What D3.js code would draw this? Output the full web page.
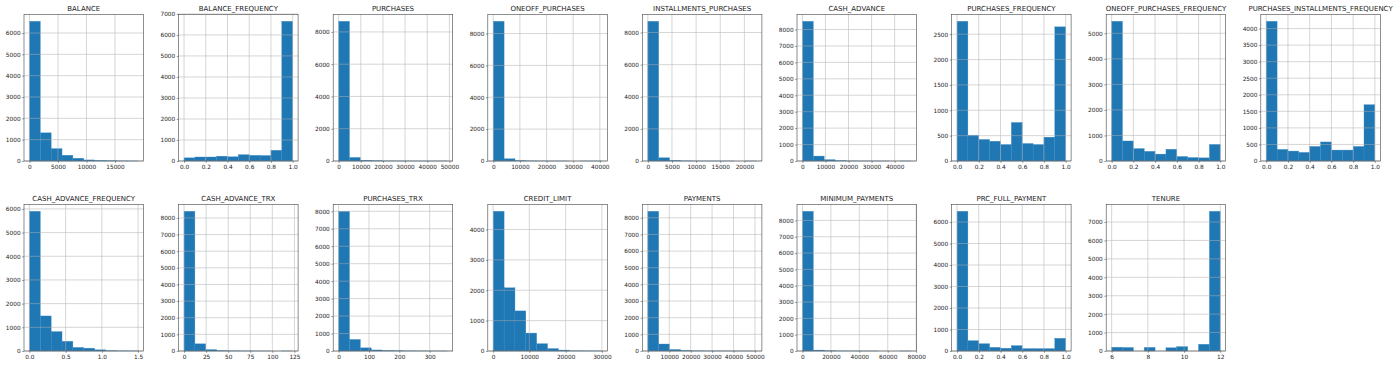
<!DOCTYPE html>
<html>
<head>
<meta charset="utf-8">
<script src="https://cdn.jsdelivr.net/npm/d3@7/dist/d3.min.js"></script>
<style>
  html, body { margin: 0; padding: 0; background: #fff; }
  svg { display: block; }
  text { font-family: "DejaVu Sans", sans-serif; fill: #222; }
</style>
</head>
<body>
<svg id="chart" width="1400" height="366"></svg>
<script>
// ---- data ----
const columns = [
  "BALANCE", "BALANCE_FREQUENCY", "PURCHASES", "ONEOFF_PURCHASES", "INSTALLMENTS_PURCHASES",
  "CASH_ADVANCE", "PURCHASES_FREQUENCY", "ONEOFF_PURCHASES_FREQUENCY", "PURCHASES_INSTALLMENTS_FREQUENCY",
  "CASH_ADVANCE_FREQUENCY", "CASH_ADVANCE_TRX", "PURCHASES_TRX", "CREDIT_LIMIT", "PAYMENTS",
  "MINIMUM_PAYMENTS", "PRC_FULL_PAYMENT", "TENURE"
];
const dataMin = [0, 0, 0, 0, 0, 0, 0, 0, 0, 0, 0, 0, 50, 0, 0.02, 0, 6];
const dataMax = [19043, 1, 49040, 40761, 22500, 47137, 1, 1, 1, 1.5, 123, 358, 30000, 50721, 76406, 1, 12];
const binCounts = [
  [6550, 1320, 580, 270, 130, 50, 25, 10, 5, 2],
  [150, 190, 190, 230, 200, 300, 270, 260, 510, 6650],
  [8660, 220, 45, 12, 5, 3, 2, 1, 1, 1],
  [8770, 140, 25, 8, 3, 1, 1, 0, 1, 1],
  [8700, 200, 35, 8, 3, 1, 1, 1, 0, 1],
  [8500, 300, 80, 20, 5, 2, 1, 1, 0, 1],
  [2755, 510, 425, 390, 325, 760, 345, 325, 470, 2645],
  [5470, 784, 486, 378, 270, 460, 176, 135, 122, 649],
  [4220, 350, 300, 260, 440, 575, 330, 330, 440, 1700],
  [5900, 1480, 820, 410, 150, 120, 50, 10, 5, 3],
  [8400, 430, 85, 20, 8, 3, 2, 1, 0, 1],
  [8000, 660, 180, 60, 25, 12, 6, 4, 2, 1],
  [4600, 2080, 1320, 590, 240, 80, 30, 5, 3, 2],
  [8390, 420, 90, 30, 10, 4, 3, 1, 1, 1],
  [8560, 55, 12, 4, 2, 1, 1, 0, 0, 1],
  [6500, 480, 340, 170, 130, 250, 110, 110, 110, 590],
  [204, 190, 0, 196, 0, 175, 236, 0, 365, 7584]
];
const xTickLabels = [
  ["0", "5000", "10000", "15000"],
  ["0.0", "0.2", "0.4", "0.6", "0.8", "1.0"],
  ["0", "10000", "20000", "30000", "40000", "50000"],
  ["0", "10000", "20000", "30000", "40000"],
  ["0", "5000", "10000", "15000", "20000"],
  ["0", "10000", "20000", "30000", "40000"],
  ["0.0", "0.2", "0.4", "0.6", "0.8", "1.0"],
  ["0.0", "0.2", "0.4", "0.6", "0.8", "1.0"],
  ["0.0", "0.2", "0.4", "0.6", "0.8", "1.0"],
  ["0.0", "0.5", "1.0", "1.5"],
  ["0", "25", "50", "75", "100", "125"],
  ["0", "100", "200", "300"],
  ["0", "10000", "20000", "30000"],
  ["0", "10000", "20000", "30000", "40000", "50000"],
  ["0", "20000", "40000", "60000", "80000"],
  ["0.0", "0.2", "0.4", "0.6", "0.8", "1.0"],
  ["6", "8", "10", "12"]
];
const yTickLabels = [
  ["0", "1000", "2000", "3000", "4000", "5000", "6000"],
  ["0", "1000", "2000", "3000", "4000", "5000", "6000", "7000"],
  ["0", "2000", "4000", "6000", "8000"],
  ["0", "2000", "4000", "6000", "8000"],
  ["0", "2000", "4000", "6000", "8000"],
  ["0", "1000", "2000", "3000", "4000", "5000", "6000", "7000", "8000"],
  ["0", "500", "1000", "1500", "2000", "2500"],
  ["0", "1000", "2000", "3000", "4000", "5000"],
  ["0", "500", "1000", "1500", "2000", "2500", "3000", "3500", "4000"],
  ["0", "1000", "2000", "3000", "4000", "5000", "6000"],
  ["0", "1000", "2000", "3000", "4000", "5000", "6000", "7000", "8000"],
  ["0", "1000", "2000", "3000", "4000", "5000", "6000", "7000", "8000"],
  ["0", "1000", "2000", "3000", "4000"],
  ["0", "1000", "2000", "3000", "4000", "5000", "6000", "7000", "8000"],
  ["0", "1000", "2000", "3000", "4000", "5000", "6000", "7000", "8000"],
  ["0", "1000", "2000", "3000", "4000", "5000", "6000"],
  ["0", "1000", "2000", "3000", "4000", "5000", "6000", "7000"]
];

// ---- layout ----
const nCols = 9;
const left0 = 24, colStep = 154.6, axW = 119.5;
const rowTops = [14.3, 204.3], axH = 146.7;
const barColor = "#1f77b4";
const gridColor = "#b0b0b0";
const tickFont = 5.8, titleFont = 7;

const svg = d3.select("#chart");
svg.append("rect").attr("width", 1400).attr("height", 366).attr("fill", "#fff");

columns.forEach((name, k) => {
  const col = k % nCols, row = Math.floor(k / nCols);
  const x0 = left0 + col * colStep, y0 = rowTops[row];
  const g = svg.append("g").attr("transform", `translate(${x0},${y0})`);

  const lo = dataMin[k], hi = dataMax[k], span = hi - lo;
  const counts = binCounts[k];
  const nb = counts.length, bw = span / nb;
  const x = d3.scaleLinear().domain([lo - 0.05 * span, hi + 0.05 * span]).range([0, axW]);
  const y = d3.scaleLinear().domain([0, d3.max(counts) * 1.05]).range([axH, 0]);

  const bins = counts.map((c, i) => ({ x0: lo + i * bw, x1: lo + (i + 1) * bw, c }));
  g.selectAll("rect.bar").data(bins).enter().append("rect")
    .attr("class", "bar")
    .attr("x", d => x(d.x0))
    .attr("width", d => x(d.x1) - x(d.x0))
    .attr("y", d => y(d.c))
    .attr("height", d => y(0) - y(d.c))
    .attr("fill", barColor)
    .attr("stroke", d => d.c > 0 ? "#3a8cc6" : "none")
    .attr("stroke-width", 0.35);

  const xt = xTickLabels[k].map(s => +s);
  const yt = yTickLabels[k].map(s => +s);

  // grid (above bars, as matplotlib default)
  const grid = g.append("g").attr("stroke", gridColor).attr("stroke-width", 0.6).attr("opacity", 0.85);
  grid.selectAll("line.vx").data(xt).enter().append("line")
    .attr("x1", d => x(d)).attr("x2", d => x(d)).attr("y1", 0).attr("y2", axH);
  grid.selectAll("line.hy").data(yt).enter().append("line")
    .attr("y1", d => y(d)).attr("y2", d => y(d)).attr("x1", 0).attr("x2", axW);

  // axes via d3
  const xAxis = d3.axisBottom(x).tickValues(xt).tickSize(1.8).tickPadding(1.8)
    .tickFormat((d, i) => xTickLabels[k][i]);
  const yAxis = d3.axisLeft(y).tickValues(yt).tickSize(1.8).tickPadding(1.6)
    .tickFormat((d, i) => yTickLabels[k][i]);

  const gx = g.append("g").attr("transform", `translate(0,${axH})`).call(xAxis);
  const gy = g.append("g").call(yAxis);
  [gx, gy].forEach(a => {
    a.select(".domain").remove();
    a.selectAll(".tick line").attr("stroke", "#333").attr("stroke-width", 0.5);
    a.selectAll(".tick text").attr("font-size", tickFont).attr("fill", "#222")
      .style("font-family", '"DejaVu Sans", sans-serif');
  });

  // spines
  g.append("rect").attr("x", 0).attr("y", 0).attr("width", axW).attr("height", axH)
    .attr("fill", "none").attr("stroke", "#444").attr("stroke-width", 0.6);

  // title
  g.append("text").attr("x", axW / 2).attr("y", -3.4)
    .attr("text-anchor", "middle").attr("font-size", titleFont).attr("fill", "#111")
    .text(name);
});
</script>
</body>
</html>
